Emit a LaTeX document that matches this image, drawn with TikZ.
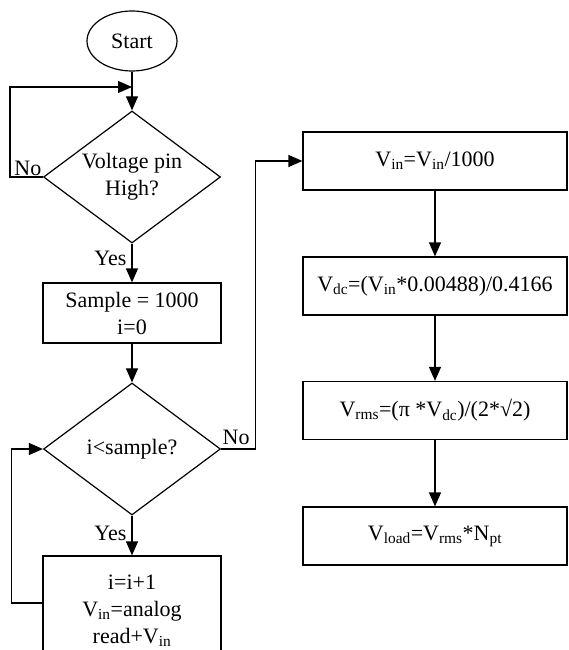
\documentclass[tikz,border=0pt]{standalone}
\usepackage{fontspec}
\setmainfont{Liberation Serif}
\usetikzlibrary{shapes.geometric,arrows.meta}
\newcommand{\sbs}[1]{\textsubscript{#1}}
\begin{document}
\begin{tikzpicture}[x=1pt,y=-1pt,line width=1.2pt,
  every node/.style={font=\fontsize{22}{27}\selectfont},
  procL/.style={draw,minimum width=178pt,minimum height=60pt,inner sep=0pt,align=center},
  procR/.style={draw,minimum width=264pt,minimum height=58pt,inner sep=0pt,align=center},
  dec/.style={draw,diamond,minimum width=177pt,minimum height=132pt,inner sep=0pt},
  term/.style={draw,ellipse,minimum width=90pt,minimum height=60pt,inner sep=0pt},
  arr/.style={-{Triangle[length=14pt,width=12pt]}},
  lbl/.style={inner sep=1pt}]
\useasboundingbox (0,0) rectangle (568,650);
\clip (0,0) rectangle (568,650);
% left column
\node[term] (start) at (132,41) {Start};
\node[dec,label={[align=center]center:Voltage pin\\High?}] (d1) at (132,177) {};
\node[procL] (sample) at (132,313) {Sample = 1000\\i=0};
\node[dec,label={[align=center]center:i<sample?}] (d2) at (132,449) {};
\node[procL,minimum height=110pt] (acc) at (132,611) {i=i+1\\V\sbs{in}=analog\\read+V\sbs{in}};
\coordinate (j1) at (132,87);
% right column
\node[procR] (b1) at (435,161) {V\sbs{in}=V\sbs{in}/1000};
\node[procR] (b2) at (435,286) {V\sbs{dc}=(V\sbs{in}*0.00488)/0.4166};
\node[procR] (b3) at (435,410.5) {V\sbs{rms}=(π *V\sbs{dc})/(2*√2)};
\node[procR] (b4) at (435,536) {V\sbs{load}=V\sbs{rms}*N\sbs{pt}};
% connectors
\draw[arr] (start) -- (d1);
\draw[arr] (d1.west) -- ++(-33,0) |- (j1);
\draw[arr] (d1) -- (sample);
\draw[arr] (sample) -- (d2);
\draw[arr] (d2) -- (acc);
\draw[arr] ([yshift=8pt]acc.west) -- ++(-31,0) |- (d2.west);
\draw[arr] (d2.east) -- ++(34,0) |- (b1.west);
\draw[arr] (b1) -- (b2);
\draw[arr] (b2) -- (b3);
\draw[arr] (b3) -- (b4);
% labels
\node[lbl,anchor=south east] at (d1.west) {No};
\node[lbl,anchor=south west] at ([yshift=3pt]d2.east) {No};
\node[lbl,anchor=base east] at ([xshift=-4pt,yshift=-22pt]d1.south) {Yes};
\node[lbl,anchor=base east] at ([xshift=-4pt,yshift=-25pt]d2.south) {Yes};
\end{tikzpicture}
\end{document}
